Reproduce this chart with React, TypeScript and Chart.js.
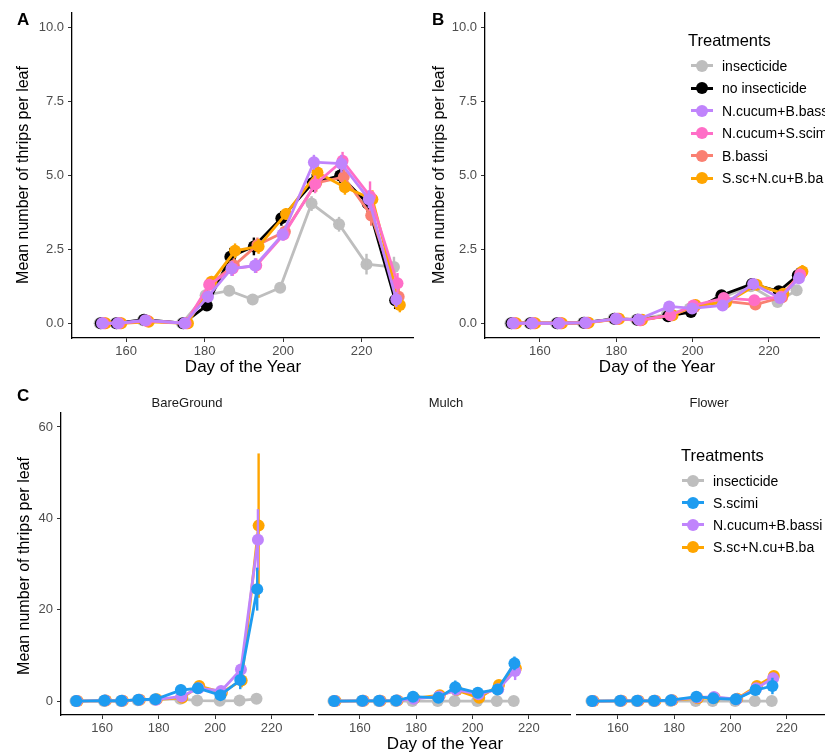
import React, { useEffect, useRef } from "react";
import { Chart, registerables } from "chart.js";
Chart.register(...registerables);

const FONT = '"Liberation Sans", Arial, Helvetica, sans-serif';

// ---------- Panel A ----------
const daysA = [154, 158, 165, 175, 181, 187, 193, 200, 208, 215, 222, 229];
const treatmentsAB = ["insecticide", "no insecticide", "N.cucum+B.bassi", "N.cucum+S.scimi", "B.bassi", "S.sc+N.cu+B.ba"];
const colorsAB = ["#BEBEBE", "#000000", "#C084FC", "#FF6EC7", "#FA8072", "#FFA500"];
const A_insecticide = [0, 0, 0.1, 0, 0.95, 1.1, 0.8, 1.2, 4.05, 3.35, 2.0, 1.9];
const A_noInsecticide = [0, 0, 0.12, 0, 0.6, 2.25, 2.6, 3.55, 4.75, 5.0, 4.05, 0.78];
const A_ncucumBbassi = [0, 0, 0.1, 0, 0.9, 1.85, 1.95, 3.0, 5.45, 5.4, 4.2, 0.8];
const A_ncucumSscimi = [0, 0, 0.08, 0, 1.3, 1.85, 1.95, 3.0, 4.7, 5.5, 4.3, 1.35];
const A_bbassi = [0, 0, 0.08, 0, 1.35, 1.95, 2.65, 3.1, 4.75, 4.95, 3.65, 0.9];
const A_sscNcuBba = [0, 0, 0.05, 0, 1.4, 2.45, 2.6, 3.7, 5.1, 4.6, 4.2, 0.62];
const A_err_insecticide = [0, 0, 0.05, 0, 0.1, 0.1, 0.1, 0.1, 0.25, 0.25, 0.35, 0.35];
const A_err_noInsecticide = [0, 0, 0.05, 0, 0.1, 0.3, 0.3, 0.25, 0.3, 0.25, 0.3, 0.3];
const A_err_ncucumBbassi = [0, 0, 0.05, 0, 0.2, 0.25, 0.25, 0.2, 0.25, 0.3, 0.3, 0.25];
const A_err_ncucumSscimi = [0, 0, 0.05, 0, 0.2, 0.25, 0.25, 0.2, 0.3, 0.3, 0.5, 0.35];
const A_err_bbassi = [0, 0, 0.05, 0, 0.2, 0.25, 0.25, 0.2, 0.3, 0.3, 0.35, 0.3];
const A_err_sscNcuBba = [0, 0, 0.05, 0, 0.2, 0.25, 0.25, 0.2, 0.3, 0.25, 0.3, 0.25];

// ---------- Panel B ----------
const daysB = [153, 158, 165, 172, 180, 186, 194, 200, 208, 216, 223, 228];
const B_insecticide = [0, 0, 0, 0.02, 0.15, 0.12, 0.3, 0.5, 0.85, 1.25, 0.72, 1.12];
const B_noInsecticide = [0, 0, 0, 0.02, 0.15, 0.12, 0.24, 0.38, 0.95, 1.33, 1.08, 1.62];
const B_ncucumBbassi = [0, 0, 0, 0.02, 0.15, 0.13, 0.57, 0.5, 0.6, 1.33, 0.85, 1.52];
const B_ncucumSscimi = [0, 0, 0, 0.02, 0.15, 0.1, 0.27, 0.6, 0.85, 0.78, 0.9, 1.65];
const B_bbassi = [0, 0, 0, 0.02, 0.15, 0.1, 0.27, 0.55, 0.75, 0.63, 0.88, 1.7];
const B_sscNcuBba = [0, 0, 0, 0.02, 0.15, 0.12, 0.27, 0.62, 0.7, 1.3, 1.0, 1.75];
const B_err_insecticide = [0, 0, 0, 0.02, 0.04, 0.04, 0.08, 0.08, 0.1, 0.12, 0.1, 0.15];
const B_err_noInsecticide = [0, 0, 0, 0.02, 0.04, 0.04, 0.08, 0.08, 0.12, 0.15, 0.15, 0.25];
const B_err_ncucumBbassi = [0, 0, 0, 0.02, 0.04, 0.04, 0.08, 0.08, 0.1, 0.12, 0.12, 0.2];
const B_err_ncucumSscimi = [0, 0, 0, 0.02, 0.04, 0.04, 0.08, 0.08, 0.1, 0.1, 0.12, 0.2];
const B_err_bbassi = [0, 0, 0, 0.02, 0.04, 0.04, 0.08, 0.08, 0.1, 0.1, 0.12, 0.2];
const B_err_sscNcuBba = [0, 0, 0, 0.02, 0.04, 0.04, 0.08, 0.08, 0.1, 0.12, 0.12, 0.22];

// ---------- Panel C ----------
const daysC = [151, 161, 167, 173, 179, 188, 194, 202, 209, 215];
const treatmentsC = ["insecticide", "S.scimi", "N.cucum+B.bassi", "S.sc+N.cu+B.ba"];
const colorsC = ["#BEBEBE", "#1E9CF0", "#C084FC", "#FFA500"];
const facetsC = ["BareGround", "Mulch", "Flower"];
// BareGround
const C1_insecticide = [0, 0, 0, 0.2, 0.3, 0.5, 0.1, 0.05, 0.1, 0.5];
const C1_sscimi = [0, 0.1, 0.05, 0.3, 0.4, 2.4, 2.8, 1.3, 4.6, 24.5];
const C1_ncucumBbassi = [0, 0.1, 0.05, 0.3, 0.3, 1.0, 2.8, 2.2, 6.9, 35.3];
const C1_sscNcuBba = [0, 0.1, 0.05, 0.3, 0.4, 0.7, 3.3, 1.9, 4.5, 38.4];
const C1_err_insecticide = [0, 0, 0, 0.1, 0.1, 0.2, 0.1, 0.05, 0.1, 0.3];
const C1_err_sscimi = [0, 0.1, 0.05, 0.1, 0.2, 1.2, 0.8, 0.6, 2.0, 4.7];
const C1_err_ncucumBbassi = [0, 0.1, 0.05, 0.1, 0.2, 0.6, 0.8, 0.6, 1.2, 6.7];
const C1_err_sscNcuBba = [0, 0.1, 0.05, 0.1, 0.2, 0.5, 0.8, 0.6, 1.5, 15.8];
// Mulch
const C2_insecticide = [0, 0, 0, 0, 0, 0, 0, 0, 0, 0];
const C2_sscimi = [0, 0.05, 0.05, 0.1, 0.95, 0.7, 3.0, 1.8, 2.55, 8.25];
const C2_ncucumBbassi = [0, 0.05, 0.05, 0.1, 0.5, 1.0, 2.5, 1.5, 2.6, 6.6];
const C2_sscNcuBba = [0, 0.05, 0.05, 0.1, 0.6, 1.3, 2.4, 0.7, 3.5, 7.2];
const C2_err_insecticide = [0, 0, 0, 0, 0, 0, 0, 0, 0, 0];
const C2_err_sscimi = [0, 0.05, 0.05, 0.1, 0.3, 0.4, 1.5, 0.6, 0.8, 1.5];
const C2_err_ncucumBbassi = [0, 0.05, 0.05, 0.1, 0.3, 0.4, 1.2, 0.6, 0.8, 2.0];
const C2_err_sscNcuBba = [0, 0.05, 0.05, 0.1, 0.3, 0.4, 1.0, 0.5, 0.9, 1.2];
// Flower
const C3_insecticide = [0, 0, 0, 0, 0, 0, 0, 0, 0, 0];
const C3_sscimi = [0, 0.05, 0.05, 0.05, 0.2, 0.95, 0.6, 0.4, 2.4, 3.3];
const C3_ncucumBbassi = [0, 0.05, 0.05, 0.05, 0.2, 0.8, 0.9, 0.4, 2.8, 5.0];
const C3_sscNcuBba = [0, 0.05, 0.05, 0.05, 0.2, 0.6, 0.7, 0.5, 3.3, 5.5];
const C3_err_insecticide = [0, 0, 0, 0, 0, 0, 0, 0, 0, 0];
const C3_err_sscimi = [0, 0.05, 0.05, 0.05, 0.1, 0.4, 0.3, 0.3, 0.8, 1.8];
const C3_err_ncucumBbassi = [0, 0.05, 0.05, 0.05, 0.1, 0.3, 0.4, 0.3, 0.8, 1.2];
const C3_err_sscNcuBba = [0, 0.05, 0.05, 0.05, 0.1, 0.3, 0.3, 0.3, 0.8, 1.0];

// ---------- Ticks ----------
const xTickValues = [160, 180, 200, 220];
const yTicksAB = [0, 2.5, 5, 7.5, 10];
const yTicksC = [0, 20, 40, 60];

const seriesA = [A_insecticide, A_noInsecticide, A_ncucumBbassi, A_ncucumSscimi, A_bbassi, A_sscNcuBba];
const errA = [A_err_insecticide, A_err_noInsecticide, A_err_ncucumBbassi, A_err_ncucumSscimi, A_err_bbassi, A_err_sscNcuBba];
const seriesB = [B_insecticide, B_noInsecticide, B_ncucumBbassi, B_ncucumSscimi, B_bbassi, B_sscNcuBba];
const errB = [B_err_insecticide, B_err_noInsecticide, B_err_ncucumBbassi, B_err_ncucumSscimi, B_err_bbassi, B_err_sscNcuBba];
const seriesC = [
  [C1_insecticide, C1_sscimi, C1_ncucumBbassi, C1_sscNcuBba],
  [C2_insecticide, C2_sscimi, C2_ncucumBbassi, C2_sscNcuBba],
  [C3_insecticide, C3_sscimi, C3_ncucumBbassi, C3_sscNcuBba],
];
const errC = [
  [C1_err_insecticide, C1_err_sscimi, C1_err_ncucumBbassi, C1_err_sscNcuBba],
  [C2_err_insecticide, C2_err_sscimi, C2_err_ncucumBbassi, C2_err_sscNcuBba],
  [C3_err_insecticide, C3_err_sscimi, C3_err_ncucumBbassi, C3_err_sscNcuBba],
];

// draw-order (bottom -> top) for A/B and C
const drawOrderAB = [0, 1, 4, 5, 3, 2];
const drawOrderC = [0, 3, 2, 1];

const errorBarPlugin = {
  id: "errorBars",
  afterDatasetDraw(chart: any, args: any) {
    const ds = chart.data.datasets[args.index];
    if (!ds.errorBars) return;
    const ys = chart.scales.y;
    const ctx = chart.ctx;
    ctx.save();
    ctx.strokeStyle = ds.borderColor;
    ctx.lineWidth = 2.4;
    args.meta.data.forEach((pt: any, j: number) => {
      const e = ds.errorBars[j];
      const v = ds.data[j].y;
      if (!e) return;
      ctx.beginPath();
      ctx.moveTo(pt.x, ys.getPixelForValue(v - e));
      ctx.lineTo(pt.x, ys.getPixelForValue(v + e));
      ctx.stroke();
    });
    ctx.restore();
  },
};

type PanelCfg = {
  days: number[];
  series: number[][];
  errors: number[][];
  colors: string[];
  names: string[];
  drawOrder: number[];
  dodge: number;
  xMin: number;
  xMax: number;
  yMin: number;
  yMax: number;
  yTicks: number[];
  yDecimals: number;
  showY: boolean;
  yWidth: number;
  xHeight: number;
  pad: { left: number; top: number; right: number };
};

function buildConfig(p: PanelCfg): any {
  const n = p.series.length;
  const datasets = p.drawOrder.map((si, k) => {
    const off = (si - (n - 1) / 2) * p.dodge;
    return {
      label: p.names[si],
      data: p.days.map((d, j) => ({ x: d + off, y: p.series[si][j] })),
      errorBars: p.errors[si],
      borderColor: p.colors[si],
      backgroundColor: p.colors[si],
      pointBackgroundColor: p.colors[si],
      pointBorderColor: p.colors[si],
      pointBorderWidth: 0,
      pointRadius: 6,
      borderWidth: 2.8,
      tension: 0,
      order: n - k,
      clip: false,
    };
  });
  const tickFont = { family: FONT, size: 13 };
  return {
    type: "line",
    data: { datasets },
    plugins: [errorBarPlugin],
    options: {
      responsive: false,
      animation: false,
      devicePixelRatio: 1,
      layout: { padding: { left: p.pad.left, top: p.pad.top, right: p.pad.right, bottom: 0 } },
      plugins: { legend: { display: false }, tooltip: { enabled: false } },
      events: [],
      scales: {
        x: {
          type: "linear",
          min: p.xMin,
          max: p.xMax,
          afterBuildTicks: (s: any) => {
            s.ticks = xTickValues.map((v) => ({ value: v }));
          },
          afterFit: (s: any) => {
            s.height = p.xHeight;
          },
          grid: { drawOnChartArea: false, drawTicks: true, tickLength: 4, color: "#333333", tickColor: "#333333", lineWidth: 1 },
          border: { display: true, color: "#000000", width: 1.3 },
          ticks: { color: "#4D4D4D", font: tickFont, padding: 2, maxRotation: 0, autoSkip: false, callback: (v: any) => String(v) },
        },
        y: {
          type: "linear",
          display: p.showY,
          min: p.yMin,
          max: p.yMax,
          afterBuildTicks: (s: any) => {
            s.ticks = p.yTicks.map((v) => ({ value: v }));
          },
          afterFit: (s: any) => {
            s.width = p.showY ? p.yWidth : 0;
          },
          grid: { drawOnChartArea: false, drawTicks: true, tickLength: 4, color: "#333333", tickColor: "#333333", lineWidth: 1 },
          border: { display: true, color: "#000000", width: 1.3 },
          ticks: { color: "#4D4D4D", font: tickFont, padding: 4, autoSkip: false, callback: (v: any) => Number(v).toFixed(p.yDecimals) },
        },
      },
    },
  };
}

function ChartPanel(props: { left: number; top: number; width: number; height: number; cfg: PanelCfg }) {
  const ref = useRef<HTMLCanvasElement | null>(null);
  useEffect(() => {
    if (!ref.current) return;
    const chart = new Chart(ref.current, buildConfig(props.cfg));
    return () => chart.destroy();
  }, []);
  return (
    <canvas
      ref={ref}
      width={props.width}
      height={props.height}
      style={{ position: "absolute", left: props.left, top: props.top, width: props.width, height: props.height }}
    />
  );
}

function Text(props: { x: number; y: number; size: number; children: any; bold?: boolean; align?: "left" | "center"; color?: string }) {
  const tx = props.align === "left" ? "0" : "-50%";
  return (
    <div
      style={{
        position: "absolute",
        left: props.x,
        top: props.y,
        transform: `translate(${tx}, -50%)`,
        fontSize: props.size,
        fontWeight: props.bold ? 700 : 400,
        fontFamily: FONT,
        color: props.color || "#000",
        whiteSpace: "nowrap",
        lineHeight: 1,
      }}
    >
      {props.children}
    </div>
  );
}

function RotText(props: { x: number; y: number; size: number; children: any }) {
  return (
    <div
      style={{
        position: "absolute",
        left: props.x,
        top: props.y,
        transform: "translate(-50%, -50%) rotate(-90deg)",
        fontSize: props.size,
        fontFamily: FONT,
        color: "#000",
        whiteSpace: "nowrap",
        lineHeight: 1,
      }}
    >
      {props.children}
    </div>
  );
}

function Legend(props: { x: number; y: number; names: string[]; colors: string[]; step: number; keyX: number; textX: number }) {
  return (
    <>
      <Text x={props.x} y={props.y} size={16.5} align="left">
        Treatments
      </Text>
      {props.names.map((nm, i) => {
        const cy = props.y + 25.5 + i * props.step;
        return (
          <React.Fragment key={nm}>
            <div style={{ position: "absolute", left: props.keyX, top: cy - 1.5, width: 22, height: 3, background: props.colors[i] }} />
            <div
              style={{ position: "absolute", left: props.keyX + 11 - 6, top: cy - 6, width: 12, height: 12, borderRadius: 6, background: props.colors[i] }}
            />
            <Text x={props.textX} y={cy} size={14} align="left">
              {nm}
            </Text>
          </React.Fragment>
        );
      })}
    </>
  );
}

export default function App() {
  const cfgA: PanelCfg = {
    days: daysA, series: seriesA, errors: errA, colors: colorsAB, names: treatmentsAB, drawOrder: drawOrderAB, dodge: 0.3,
    xMin: 146.2, xMax: 233.1, yMin: -0.5, yMax: 10.5, yTicks: yTicksAB, yDecimals: 1, showY: true,
    yWidth: 72, xHeight: 42, pad: { left: 0, top: 13, right: 7 },
  };
  const cfgB: PanelCfg = {
    days: daysB, series: seriesB, errors: errB, colors: colorsAB, names: treatmentsAB, drawOrder: drawOrderAB, dodge: 0.3,
    xMin: 145.6, xMax: 233.1, yMin: -0.5, yMax: 10.5, yTicks: yTicksAB, yDecimals: 1, showY: true,
    yWidth: 65, xHeight: 42, pad: { left: 0, top: 13, right: 0 },
  };
  const cfgC = (f: number, left: number): PanelCfg => ({
    days: daysC, series: seriesC[f], errors: errC[f], colors: colorsC, names: treatmentsC, drawOrder: drawOrderC, dodge: 0.25,
    xMin: 145.5, xMax: 234.6, yMin: -3.05, yMax: 63.05, yTicks: yTicksC, yDecimals: 0, showY: f === 0,
    yWidth: 61, xHeight: 38, pad: { left: left, top: 33, right: 7 },
  });
  return (
    <div style={{ position: "absolute", left: 0, top: 0, width: 825, height: 753, overflow: "hidden", background: "#fff" }}>
      <ChartPanel left={0} top={0} width={420} height={380} cfg={cfgA} />
      <ChartPanel left={420} top={0} width={405} height={380} cfg={cfgB} />
      <ChartPanel left={0} top={380} width={320} height={373} cfg={cfgC(0, 0)} />
      <ChartPanel left={312} top={380} width={265} height={373} cfg={cfgC(1, 7)} />
      <ChartPanel left={570} top={380} width={265} height={373} cfg={cfgC(2, 7)} />

      <Text x={17} y={19} size={17} bold align="left">A</Text>
      <Text x={432} y={19} size={17} bold align="left">B</Text>
      <Text x={17} y={395} size={17} bold align="left">C</Text>

      <RotText x={23} y={175} size={16}>Mean number of thrips per leaf</RotText>
      <RotText x={439} y={175} size={16}>Mean number of thrips per leaf</RotText>
      <RotText x={24} y={566} size={16}>Mean number of thrips per leaf</RotText>

      <Text x={243} y={366} size={17}>Day of the Year</Text>
      <Text x={657} y={366} size={17}>Day of the Year</Text>
      <Text x={445} y={743} size={17}>Day of the Year</Text>

      <Text x={187} y={402} size={13} color="#1A1A1A">{facetsC[0]}</Text>
      <Text x={446} y={402} size={13} color="#1A1A1A">{facetsC[1]}</Text>
      <Text x={709} y={402} size={13} color="#1A1A1A">{facetsC[2]}</Text>

      <Legend x={688} y={40} names={treatmentsAB} colors={colorsAB} step={22.5} keyX={691} textX={722} />
      <Legend x={681} y={455} names={treatmentsC} colors={colorsC} step={22.2} keyX={682} textX={713} />
    </div>
  );
}
